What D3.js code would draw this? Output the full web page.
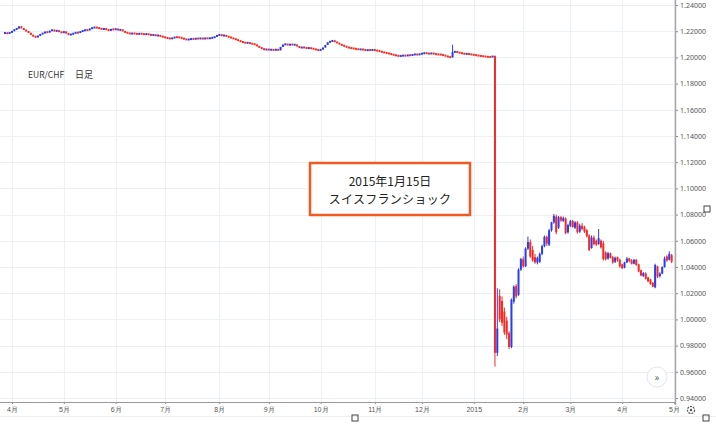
<!DOCTYPE html>
<html>
<head>
<meta charset="utf-8">
<script src="https://cdn.jsdelivr.net/npm/d3@7"></script>
<style>
body { margin: 0; background: #fff; }
svg { display: block; font-family: "Noto Sans CJK JP", "Noto Sans", sans-serif; }
</style>
</head>
<body>
<div id="chart"></div>
<script>
// EUR/CHF daily, 2014-03-27 .. 2015-01-14 (open = previous close)
const closes2014 = [
  1.2186, 1.2183, 1.2190, 1.2200, 1.2215, 1.2220, 1.2237, 1.2222, 1.2210, 1.2200,
  1.2188, 1.2172, 1.2160, 1.2154, 1.2165, 1.2178, 1.2185, 1.2195, 1.2190, 1.2204,
  1.2210, 1.2200, 1.2206, 1.2194, 1.2188, 1.2198, 1.2182, 1.2173, 1.2176, 1.2185,
  1.2190, 1.2188, 1.2198, 1.2204, 1.2210, 1.2207, 1.2220, 1.2226, 1.2230, 1.2225,
  1.2222, 1.2215, 1.2219, 1.2212, 1.2205, 1.2216, 1.2212, 1.2218, 1.2208, 1.2212,
  1.2200, 1.2190, 1.2186, 1.2180, 1.2184, 1.2181, 1.2178, 1.2182, 1.2179, 1.2176,
  1.2179, 1.2174, 1.2170, 1.2172, 1.2166, 1.2168, 1.2161, 1.2156, 1.2150, 1.2146,
  1.2143, 1.2148, 1.2155, 1.2154, 1.2152, 1.2146, 1.2140, 1.2135, 1.2138, 1.2142,
  1.2140, 1.2145, 1.2143, 1.2146, 1.2142, 1.2147, 1.2144, 1.2148, 1.2150, 1.2158,
  1.2170, 1.2173, 1.2166, 1.2168, 1.2161, 1.2155, 1.2148, 1.2142, 1.2135, 1.2128,
  1.2120, 1.2115, 1.2110, 1.2112, 1.2106, 1.2102, 1.2098, 1.2085, 1.2075,
  1.2066, 1.2059, 1.2062, 1.2057, 1.2060, 1.2055, 1.2062, 1.2054, 1.2080, 1.2098,
  1.2102, 1.2094, 1.2100, 1.2096, 1.2097, 1.2085, 1.2072, 1.2078, 1.2074, 1.2070,
  1.2072, 1.2068, 1.2064, 1.2058, 1.2054, 1.2060, 1.2075, 1.2095, 1.2115, 1.2123,
  1.2128, 1.2118, 1.2110, 1.2100, 1.2092, 1.2085, 1.2078, 1.2072, 1.2070, 1.2067,
  1.2064, 1.2060, 1.2062, 1.2058, 1.2054, 1.2057, 1.2055, 1.2058, 1.2054, 1.2050,
  1.2046, 1.2040, 1.2036, 1.2032, 1.2028, 1.2022, 1.2018, 1.2014, 1.2010, 1.2012,
  1.2015, 1.2012, 1.2018, 1.2016, 1.2021, 1.2024, 1.2020, 1.2026, 1.2030, 1.2034,
  1.2030, 1.2028, 1.2032, 1.2026, 1.2024, 1.2022, 1.2021, 1.2016, 1.2010,
  1.2004, 1.2001, 1.2040, 1.2045, 1.2038, 1.2034, 1.2030, 1.2026, 1.2028, 1.2024,
  1.2022, 1.2018, 1.2016, 1.2012, 1.2010, 1.2008, 1.2005, 1.2004, 1.2003, 1.2010
];
// [index, high, low] for visible 2014 wicks
const wicks2014 = [[190, 1.2097, 1.1998]];

// 2015-01-15 .. 2015-04-30
const opens2015 = [
  1.2010, 0.9745, 1.0180, 1.0140, 1.0060, 0.9990, 0.9895, 0.9790, 1.0136, 1.0254,
  1.0187, 1.0380, 1.0460, 1.0405, 1.0540, 1.0590, 1.0530, 1.0475, 1.0435, 1.0440,
  1.0500, 1.0560, 1.0630, 1.0570, 1.0680, 1.0740, 1.0785, 1.0700, 1.0780, 1.0750,
  1.0770, 1.0665, 1.0715, 1.0750, 1.0700, 1.0740, 1.0670, 1.0715, 1.0705, 1.0680,
  1.0640, 1.0545, 1.0625, 1.0600, 1.0575, 1.0600, 1.0580, 1.0510, 1.0465, 1.0505,
  1.0475, 1.0440, 1.0475, 1.0455, 1.0420, 1.0395, 1.0435, 1.0465, 1.0450, 1.0425,
  1.0455, 1.0420, 1.0375, 1.0330, 1.0350, 1.0320, 1.0305, 1.0280, 1.0245, 1.0405,
  1.0330, 1.0350, 1.0400, 1.0480, 1.0455, 1.0490
];
const highs2015 = [
  1.2015, 1.0238, 1.0230, 1.0175, 1.0090, 1.0020, 0.9910, 1.0160, 1.0260, 1.0270,
  1.0390, 1.0470, 1.0480, 1.0550, 1.0632, 1.0610, 1.0560, 1.0500, 1.0480, 1.0510,
  1.0570, 1.0640, 1.0640, 1.0690, 1.0745, 1.0805, 1.0800, 1.0790, 1.0790, 1.0785,
  1.0780, 1.0730, 1.0760, 1.0760, 1.0750, 1.0750, 1.0730, 1.0735, 1.0715, 1.0690,
  1.0650, 1.0640, 1.0640, 1.0610, 1.0690, 1.0610, 1.0600, 1.0520, 1.0515, 1.0510,
  1.0485, 1.0480, 1.0480, 1.0465, 1.0425, 1.0440, 1.0475, 1.0470, 1.0460, 1.0460,
  1.0460, 1.0425, 1.0380, 1.0360, 1.0360, 1.0325, 1.0310, 1.0285, 1.0425, 1.0410,
  1.0360, 1.0405, 1.0480, 1.0490, 1.0520, 1.0500
];
const lows2015 = [
  0.9640, 0.9720, 0.9980, 0.9950, 0.9880, 0.9850, 0.9775, 0.9780, 1.0120, 1.0160,
  1.0180, 1.0370, 1.0395, 1.0400, 1.0530, 1.0470, 1.0440, 1.0425, 1.0420, 1.0430,
  1.0490, 1.0550, 1.0560, 1.0560, 1.0670, 1.0730, 1.0650, 1.0690, 1.0745, 1.0745,
  1.0650, 1.0655, 1.0705, 1.0700, 1.0690, 1.0655, 1.0660, 1.0680, 1.0660, 1.0625,
  1.0520, 1.0540, 1.0565, 1.0560, 1.0570, 1.0540, 1.0450, 1.0450, 1.0455, 1.0465,
  1.0425, 1.0430, 1.0440, 1.0395, 1.0385, 1.0390, 1.0430, 1.0435, 1.0420, 1.0420,
  1.0410, 1.0360, 1.0330, 1.0325, 1.0305, 1.0285, 1.0265, 1.0245, 1.0238, 1.0315,
  1.0320, 1.0345, 1.0395, 1.0440, 1.0450, 1.0430
];
const closes2015 = [
  0.9745, 0.9930, 1.0000, 0.9975, 0.9900, 0.9885, 0.9790, 1.0150, 1.0250, 1.0175,
  1.0380, 1.0460, 1.0405, 1.0540, 1.0590, 1.0480, 1.0450, 1.0435, 1.0470, 1.0500,
  1.0560, 1.0630, 1.0580, 1.0680, 1.0740, 1.0790, 1.0665, 1.0780, 1.0755, 1.0775,
  1.0660, 1.0720, 1.0750, 1.0705, 1.0740, 1.0665, 1.0715, 1.0690, 1.0670, 1.0635,
  1.0530, 1.0625, 1.0575, 1.0570, 1.0620, 1.0550, 1.0460, 1.0460, 1.0505, 1.0470,
  1.0435, 1.0470, 1.0450, 1.0405, 1.0390, 1.0435, 1.0465, 1.0445, 1.0425, 1.0455,
  1.0415, 1.0365, 1.0335, 1.0355, 1.0310, 1.0290, 1.0270, 1.0250, 1.0415, 1.0325,
  1.0350, 1.0400, 1.0465, 1.0450, 1.0500, 1.0440
];

const yTicks = [1.24, 1.22, 1.20, 1.18, 1.16, 1.14, 1.12, 1.10, 1.08, 1.06, 1.04, 1.02, 1.00, 0.98, 0.96, 0.94];
const holidays = ["2014-12-25", "2015-01-01"];
const annotationLines = ["2015年1月15日", "スイスフランショック"];
const legendText = ["EUR/CHF", "日足"];

const W = 716, H = 428;
const plotRight = 675, plotBottom = 402;
const upColor = "#2a3cf2", downColor = "#f42a24";

// trading days (weekdays minus holidays)
const fmtDay = d3.timeFormat("%Y-%m-%d");
const dates = d3.timeDay.range(new Date(2014, 2, 27), new Date(2015, 4, 1))
  .filter(d => d.getDay() !== 0 && d.getDay() !== 6 && !holidays.includes(fmtDay(d)));

const candles = [];
closes2014.forEach((c, i) => {
  const o = i > 0 ? closes2014[i - 1] : c;
  const w = wicks2014.find(v => v[0] === i);
  candles.push({ i, o, c, h: w ? w[1] : Math.max(o, c), l: w ? w[2] : Math.min(o, c) });
});
closes2015.forEach((c, k) => {
  candles.push({ i: closes2014.length + k, o: opens2015[k], h: highs2015[k], l: lows2015[k], c });
});

// month ticks at the first trading day of each month
const monthStarts = d3.timeMonth.range(new Date(2014, 3, 1), new Date(2015, 4, 2));
const monthTicks = monthStarts.map(m => {
  let idx = dates.findIndex(d => d >= m);
  if (idx < 0) idx = dates.length;
  return { idx, label: m.getMonth() === 0 ? String(m.getFullYear()) : (m.getMonth() + 1) + "月" };
});

const x = d3.scaleLinear()
  .domain([monthTicks[0].idx, dates.length])
  .range([12, 674]);
const y = d3.scaleLinear()
  .domain([0.94, 1.24])
  .range([398, 5]);

const svg = d3.select("#chart").append("svg")
  .attr("width", W)
  .attr("height", H);

svg.append("rect").attr("width", W).attr("height", H).attr("fill", "#fff");

// grid
const grid = svg.append("g").attr("stroke", "#ebf0f7").attr("stroke-width", 1);
grid.selectAll(".gv").data(monthTicks).join("line")
  .attr("x1", d => Math.round(x(d.idx)) + 0.5).attr("x2", d => Math.round(x(d.idx)) + 0.5)
  .attr("y1", 0).attr("y2", plotBottom);
grid.selectAll(".gh").data(yTicks).join("line")
  .attr("x1", 0).attr("x2", plotRight)
  .attr("y1", d => Math.round(y(d)) + 0.5).attr("y2", d => Math.round(y(d)) + 0.5);

// legend
svg.append("text").attr("x", 28).attr("y", 78)
  .attr("font-size", 8.5).attr("fill", "#333").text(legendText[0]);
svg.append("text").attr("x", 75).attr("y", 78)
  .attr("font-size", 9).attr("fill", "#333").text(legendText[1]);

// candles
svg.append("clipPath").attr("id", "plotClip")
  .append("rect").attr("x", 0).attr("y", 0).attr("width", plotRight).attr("height", plotBottom);
const cg = svg.append("g").attr("clip-path", "url(#plotClip)");
const bw = 2;
const candle = cg.selectAll("g.candle").data(candles).join("g")
  .attr("class", "candle")
  .attr("fill", d => d.c >= d.o ? upColor : downColor)
  .attr("stroke", d => d.c >= d.o ? upColor : downColor);
candle.append("line")
  .attr("x1", d => x(d.i)).attr("x2", d => x(d.i))
  .attr("y1", d => y(d.h)).attr("y2", d => y(d.l))
  .attr("stroke-width", 1);
candle.append("rect")
  .attr("stroke", "none")
  .attr("x", d => x(d.i) - bw / 2)
  .attr("width", bw)
  .attr("y", d => Math.min(y(Math.max(d.o, d.c)), (y(d.o) + y(d.c)) / 2 - 1))
  .attr("height", d => Math.max(2, Math.abs(y(d.o) - y(d.c))));

// y axis
const yAxis = d3.axisRight(y)
  .tickValues(yTicks)
  .tickFormat(d3.format(".5f"))
  .tickSize(3)
  .tickPadding(2);
const ya = svg.append("g").attr("transform", "translate(" + plotRight + ",0)").call(yAxis);
ya.select(".domain").remove();
ya.selectAll("line").attr("stroke", "#888");
ya.selectAll("text").attr("font-size", 7).attr("fill", "#555")
  .attr("font-family", "'Noto Sans', sans-serif");
svg.append("line").attr("x1", plotRight + 0.5).attr("x2", plotRight + 0.5)
  .attr("y1", 0).attr("y2", 405).attr("stroke", "#a8a8a8").attr("stroke-width", 1.5);

// x axis
const xAxis = d3.axisBottom(x)
  .tickValues(monthTicks.map(d => d.idx))
  .tickFormat((d, i) => monthTicks[i].label)
  .tickSize(2)
  .tickPadding(3);
const xa = svg.append("g").attr("transform", "translate(0," + plotBottom + ")").call(xAxis);
xa.select(".domain").remove();
xa.selectAll("line").attr("stroke", "#888");
xa.selectAll("text").attr("font-size", 7).attr("fill", "#555");
svg.append("line").attr("x1", 0).attr("x2", plotRight + 1)
  .attr("y1", plotBottom + 0.5).attr("y2", plotBottom + 0.5)
  .attr("stroke", "#9a9a9a").attr("stroke-width", 1);
svg.append("line").attr("x1", 0).attr("x2", W)
  .attr("y1", 416.5).attr("y2", 416.5).attr("stroke", "#eeeeee");

// annotation
svg.append("rect").attr("x", 310).attr("y", 163).attr("width", 160).attr("height", 52)
  .attr("fill", "#fff").attr("stroke", "#f15a22").attr("stroke-width", 2.5);
svg.selectAll(".ann").data(annotationLines).join("text")
  .attr("x", 390).attr("y", (d, i) => 186 + i * 18)
  .attr("text-anchor", "middle").attr("font-size", 12).attr("fill", "#222")
  .attr("letter-spacing", (d, i) => i === 1 ? 0.3 : 0)
  .text(d => d);

// UI bits
const ui = svg.append("g").attr("fill", "none").attr("stroke", "#444").attr("stroke-width", 1);
[[355, 418], [706, 418], [707, 209]].forEach(p => {
  ui.append("rect").attr("x", p[0] - 3).attr("y", p[1] - 3).attr("width", 6).attr("height", 6);
});
svg.append("circle").attr("cx", 657).attr("cy", 377).attr("r", 10)
  .attr("fill", "#fff").attr("stroke", "#e3e6ec");
svg.append("text").attr("x", 657).attr("y", 380.5).attr("text-anchor", "middle")
  .attr("font-size", 10).attr("fill", "#555").text("»");
svg.append("circle").attr("cx", 691).attr("cy", 410).attr("r", 3.5)
  .attr("fill", "none").attr("stroke", "#555").attr("stroke-width", 1.2)
  .attr("stroke-dasharray", "2,1");
svg.append("circle").attr("cx", 691).attr("cy", 410).attr("r", 1.2)
  .attr("fill", "#555");
</script>
</body>
</html>
